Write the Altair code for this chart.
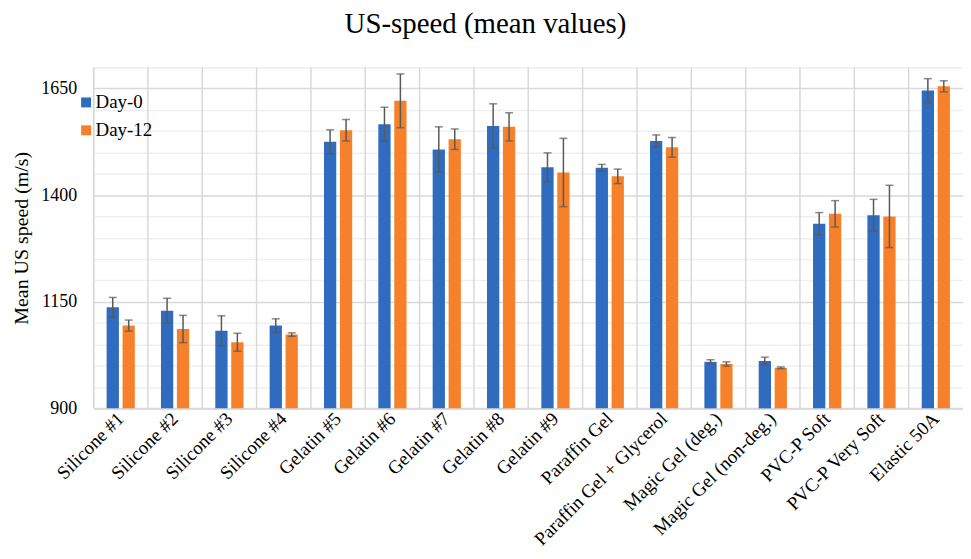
import altair as alt
import pandas as pd

categories = ["Silicone #1", "Silicone #2", "Silicone #3", "Silicone #4",
              "Gelatin #5", "Gelatin #6", "Gelatin #7", "Gelatin #8", "Gelatin #9",
              "Paraffin Gel", "Paraffin Gel + Glycerol", "Magic Gel (deg.)",
              "Magic Gel (non-deg.)", "PVC-P Soft", "PVC-P Very Soft", "Elastic 50A"]
day0_mean = [1137, 1129, 1082, 1094, 1525, 1566, 1507, 1562, 1465, 1464, 1527, 1009, 1011, 1333, 1353, 1645]
day0_err = [23, 29, 35, 16, 28, 40, 53, 52, 34, 8, 14, 5, 9, 26, 37, 28]
day12_mean = [1094, 1086, 1055, 1073, 1552, 1621, 1531, 1560, 1453, 1444, 1512, 1004, 995, 1356, 1350, 1655]
day12_err = [13, 32, 21, 4, 25, 63, 24, 33, 80, 17, 23, 5, 2, 31, 73, 13]
series = ["Day-0", "Day-12"]
colors = ["#2F6CBF", "#F7812B"]
y_ticks = list(range(900, 1701, 50))

rows = []
for name, means, errs in [(series[0], day0_mean, day0_err), (series[1], day12_mean, day12_err)]:
    for c, m, e in zip(categories, means, errs):
        rows.append({"material": c, "series": name, "mean": m, "lo": m - e, "hi": m + e})
df = pd.DataFrame(rows)
cat_df = pd.DataFrame({"material": categories})

FONT = "Liberation Serif"

x_scale = alt.Scale(paddingInner=0, paddingOuter=0)
x_axis = alt.Axis(title=None, labelAngle=-45, labelAlign="right", labelBaseline="middle",
                  labelFont=FONT, labelFontSize=19, labelColor="black", labelPadding=7,
                  labelOverlap=False, labelLimit=400,
                  ticks=False, grid=False, domainColor="#d9d9d9", domainWidth=2)
y_scale = alt.Scale(domain=[900, 1700], nice=False, zero=False)
y_axis = alt.Axis(values=y_ticks, format="d", labelOverlap=False,
                  labelExpr="datum.value % 250 == 150 ? datum.label : ''",
                  title="Mean US speed (m/s)", titleFont=FONT, titleFontSize=20,
                  titleFontWeight="normal", titleColor="black", titlePadding=9,
                  labelFont=FONT, labelFontSize=18, labelColor="black", labelPadding=17,
                  ticks=False, domain=False, gridWidth=1.5,
                  gridColor={"condition": {"test": "datum.value % 250 == 150", "value": "#d9d9d9"},
                             "value": "#efefef"})

def X(**kw):
    return alt.X("material:N", sort=categories, scale=x_scale, axis=x_axis, **kw)

def Y(field):
    return alt.Y(field, scale=y_scale, axis=y_axis)

xoff = alt.XOffset("series:N", sort=series, scale=alt.Scale(paddingInner=0.23, paddingOuter=0.82))

grid_v = alt.Chart(cat_df).mark_rule(color="#d9d9d9", strokeWidth=1.5).encode(
    x=X(bandPosition=0)
)

bars = alt.Chart(df).mark_bar().encode(
    x=X(),
    xOffset=xoff,
    y=Y("mean:Q"),
    y2=alt.datum(900),
    color=alt.Color("series:N", sort=series, scale=alt.Scale(domain=series, range=colors),
                    legend=alt.Legend(title=None, orient="none", legendX=-17, legendY=26,
                                      symbolType="square", symbolSize=100, symbolStrokeWidth=0,
                                      labelFont=FONT, labelFontSize=19, labelColor="black",
                                      labelOffset=0, rowPadding=8, padding=0)),
)

err = alt.Chart(df).mark_rule(color="#595959", strokeWidth=1.5).encode(
    x=X(), xOffset=xoff, y=Y("lo:Q"), y2="hi:Q"
)
cap_lo = alt.Chart(df).mark_tick(color="#595959", thickness=1.5, size=8).encode(
    x=X(), xOffset=xoff, y=Y("lo:Q")
)
cap_hi = alt.Chart(df).mark_tick(color="#595959", thickness=1.5, size=8).encode(
    x=X(), xOffset=xoff, y=Y("hi:Q")
)

chart = alt.layer(grid_v, bars, err, cap_lo, cap_hi).properties(
    width=874, height=343,
    title=alt.TitleParams("US-speed (mean values)", font=FONT, fontSize=29, fontWeight="normal",
                          color="black", anchor="middle", dx=-43, offset=19),
    autosize=alt.AutoSizeParams(type="none"),
    padding={"left": 86, "top": 58, "right": 0, "bottom": 150},
).configure_view(stroke=None).configure(background="white")

chart.save("out.html", embed_options={"renderer": "svg", "actions": False})
